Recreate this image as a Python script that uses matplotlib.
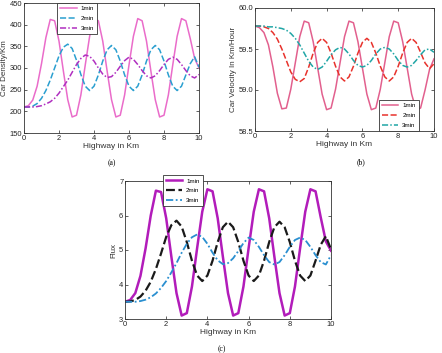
import numpy as np
import matplotlib
matplotlib.use("Agg")
import matplotlib.pyplot as plt

plt.rcParams['font.family'] = ['Liberation Sans', 'DejaVu Sans']

km = np.arange(0, 10.01, 0.25)
labels = ["1min", "2min", "3min"]

# (a) car density
dens_1 = [210, 213, 226, 258, 310, 370, 412, 409, 362, 293,
          227, 187, 191, 238, 307, 373, 414, 409, 362, 293,
          227, 187, 191, 238, 307, 373, 414, 409, 362, 293,
          227, 187, 191, 238, 307, 373, 414, 409, 368, 322, 300]
dens_2 = [210, 210, 212, 218, 230, 248, 272, 300, 328, 348,
          355, 345, 318, 285, 258, 248, 258, 284, 316, 342,
          352, 342, 316, 284, 258, 248, 258, 284, 316, 342,
          352, 342, 316, 284, 258, 248, 258, 284, 310, 326, 302]
dens_3 = [210, 210, 210, 211, 213, 217, 222, 230, 242, 257,
          272, 290, 308, 322, 330, 327, 316, 300, 286, 278,
          280, 290, 304, 317, 325, 320, 308, 294, 282, 277,
          282, 294, 308, 320, 325, 320, 308, 294, 282, 277, 285]

# (b) car velocity
vel_1 = [59.78, 59.76, 59.70, 59.55, 59.28, 58.96, 58.77, 58.78, 59.01, 59.33,
         59.65, 59.84, 59.82, 59.59, 59.27, 58.95, 58.76, 58.78, 59.01, 59.33,
         59.65, 59.84, 59.82, 59.59, 59.27, 58.95, 58.76, 58.78, 59.01, 59.33,
         59.65, 59.84, 59.82, 59.59, 59.27, 58.95, 58.76, 58.78, 59.00, 59.25, 59.38]
vel_2 = [59.78, 59.78, 59.77, 59.75, 59.70, 59.62, 59.50, 59.36, 59.22, 59.13,
         59.10, 59.14, 59.28, 59.45, 59.58, 59.63, 59.58, 59.45, 59.29, 59.16,
         59.11, 59.16, 59.29, 59.45, 59.58, 59.63, 59.58, 59.45, 59.29, 59.16,
         59.11, 59.16, 59.29, 59.45, 59.58, 59.63, 59.58, 59.46, 59.33, 59.26, 59.32]
vel_3 = [59.78, 59.78, 59.78, 59.77, 59.77, 59.76, 59.75, 59.73, 59.69, 59.63,
         59.55, 59.45, 59.35, 59.28, 59.25, 59.28, 59.35, 59.43, 59.49, 59.52,
         59.50, 59.44, 59.36, 59.30, 59.28, 59.30, 59.36, 59.44, 59.50, 59.52,
         59.50, 59.44, 59.36, 59.30, 59.28, 59.30, 59.36, 59.43, 59.49, 59.50, 59.46]

# (c) flux
flux_1 = [3.50, 3.55, 3.75, 4.25, 5.05, 6.00, 6.72, 6.68, 5.92, 4.81,
          3.75, 3.10, 3.17, 3.94, 5.05, 6.11, 6.76, 6.70, 5.92, 4.81,
          3.75, 3.10, 3.17, 3.94, 5.05, 6.11, 6.76, 6.70, 5.92, 4.81,
          3.75, 3.10, 3.17, 3.94, 5.05, 6.11, 6.76, 6.70, 5.95, 5.25, 4.98]
flux_2 = [3.50, 3.51, 3.55, 3.65, 3.82, 4.08, 4.45, 4.90, 5.38, 5.72,
          5.85, 5.68, 5.23, 4.69, 4.26, 4.10, 4.26, 4.69, 5.23, 5.66,
          5.82, 5.66, 5.23, 4.69, 4.26, 4.10, 4.26, 4.69, 5.23, 5.66,
          5.82, 5.66, 5.23, 4.69, 4.26, 4.10, 4.26, 4.69, 5.15, 5.40, 5.02]
flux_3 = [3.50, 3.50, 3.50, 3.52, 3.56, 3.63, 3.74, 3.90, 4.10, 4.35,
          4.62, 4.92, 5.18, 5.37, 5.45, 5.38, 5.18, 4.92, 4.70, 4.59,
          4.62, 4.76, 4.97, 5.20, 5.36, 5.29, 5.09, 4.85, 4.65, 4.58,
          4.65, 4.85, 5.09, 5.29, 5.36, 5.29, 5.09, 4.85, 4.65, 4.58, 4.85]

dash = (0, (4, 1.6))
dashdot = (0, (4, 1.4, 1, 1.4))


def panel(fig, rect, series, colors, widths, ylim, yticks, ylabel, leg_loc, leg_anchor):
    ax = fig.add_axes(rect)
    for ys, c, lw, ls, lab in zip(series, colors, widths, ["-", dash, dashdot], labels):
        ax.plot(km, ys, color=c, lw=lw, linestyle=ls, label=lab)
    ax.set_xlim(0, 10)
    ax.set_ylim(*ylim)
    ax.set_xticks([0, 2, 4, 6, 8, 10])
    ax.set_yticks(yticks)
    ax.tick_params(direction="in", top=True, right=True, labelsize=5.4,
                   length=2.5, width=0.5, pad=1.2, colors="#222222")
    for s in ax.spines.values():
        s.set_linewidth(0.6)
        s.set_color("#333333")
    ax.set_xlabel("Highway in Km", fontsize=6, labelpad=1, color="#333333")
    ax.set_ylabel(ylabel, fontsize=5.8, labelpad=1, color="#333333")
    leg = ax.legend(loc=leg_loc, bbox_to_anchor=leg_anchor, fontsize=4.5,
                    handlelength=2.6, handletextpad=0.6, borderaxespad=0,
                    borderpad=0.5, labelspacing=0.7, fancybox=False, framealpha=1)
    leg.get_frame().set_edgecolor("#333333")
    leg.get_frame().set_linewidth(0.6)
    return ax


fig = plt.figure(figsize=(4.42, 3.53), dpi=100)

panel(fig, [24 / 442, 220 / 353, 175 / 442, 130 / 353],
      [dens_1, dens_2, dens_3], ["#ea6cca", "#2a9fd0", "#b02fc0"], [1.1, 1.1, 1.1],
      (150, 450), [150, 200, 250, 300, 350, 400, 450], "Car Density/Km",
      "upper left", (0.19, 1.0))

panel(fig, [255 / 442, 222 / 353, 179 / 442, 123 / 353],
      [vel_1, vel_2, vel_3], ["#e2608e", "#e8322c", "#20a6a6"], [1.1, 1.1, 1.1],
      (58.5, 60), [58.5, 59, 59.5, 60], "Car Velocity In Km/Hour",
      "lower left", (0.693, 0.0))

panel(fig, [125 / 442, 34 / 353, 206 / 442, 138 / 353],
      [flux_1, flux_2, flux_3], ["#b21cba", "#1a1a1a", "#2a8fd0"], [1.8, 1.6, 1.3],
      (3, 7), [3, 4, 5, 6, 7], "Flux",
      "upper left", (0.184, 1.043))

cap = dict(fontsize=5.5, family=["Liberation Serif", "DejaVu Serif"], ha="center", va="center")
fig.text(112 / 442, 1 - 163 / 353, "(a)", **cap)
fig.text(361 / 442, 1 - 162 / 353, "(b)", **cap)
fig.text(222 / 442, 1 - 349 / 353, "(c)", **cap)

fig.savefig("out.png", dpi=100)
